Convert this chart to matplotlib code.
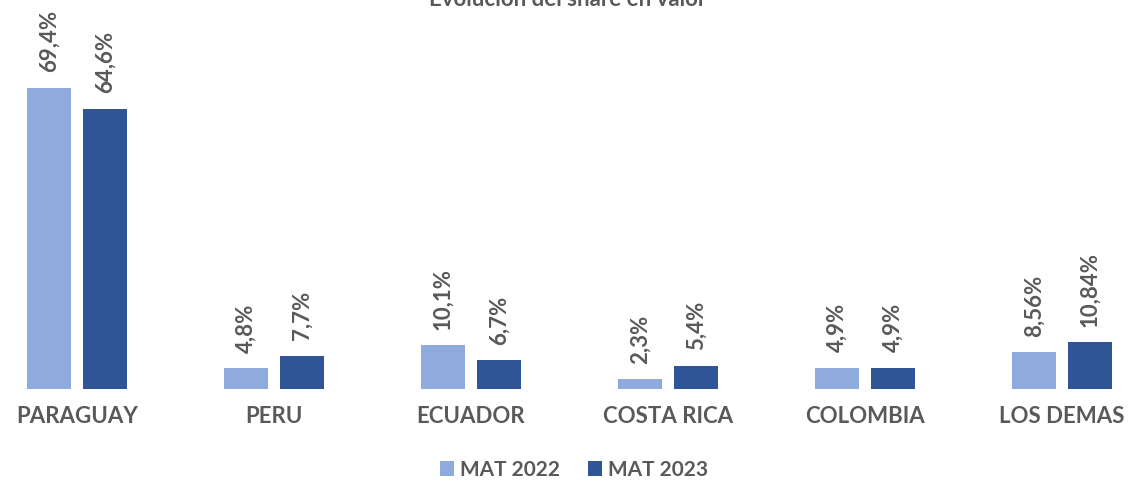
import numpy as np
import matplotlib.pyplot as plt

categories = ["PARAGUAY", "PERU", "ECUADOR", "COSTA RICA", "COLOMBIA", "LOS DEMAS"]
mat_2022 = [69.4, 4.8, 10.1, 2.3, 4.9, 8.56]
mat_2023 = [64.6, 7.7, 6.7, 5.4, 4.9, 10.84]
labels_2022 = ["69,4%", "4,8%", "10,1%", "2,3%", "4,9%", "8,56%"]
labels_2023 = ["64,6%", "7,7%", "6,7%", "5,4%", "4,9%", "10,84%"]

plt.rcParams['font.family'] = ['Lato', 'DejaVu Sans']
gray = '#595959'
c22 = '#8FAADC'
c23 = '#2F5597'

fig = plt.figure(figsize=(11.3, 4.86), dpi=100)
ax = fig.add_axes([0, 0.1996, 1, 0.8004])

x = np.arange(len(categories))
w = 0.223
off = 0.142
b1 = ax.bar(x - off, mat_2022, w, color=c22, label='MAT 2022')
b2 = ax.bar(x + off, mat_2023, w, color=c23, label='MAT 2023')

for bars, labs in [(b1, labels_2022), (b2, labels_2023)]:
    for b, t in zip(bars, labs):
        ax.annotate(t, (b.get_x() + b.get_width() / 2, b.get_height()),
                    xytext=(0, 11), textcoords='offset points',
                    rotation=90, ha='center', va='bottom',
                    fontsize=16, fontweight='bold', color=gray)

ax.set_xlim(-0.391, 5.345)
ax.set_ylim(0, 89.6)
ax.set_xticks(x)
ax.set_xticklabels(categories, fontsize=16, fontweight='bold', color=gray)
ax.tick_params(axis='x', length=0, pad=12)
ax.set_yticks([])
for s in ax.spines.values():
    s.set_visible(False)

fig.text(0.502, 1.0, "Evolución del share en valor", ha='center', va='center',
         fontsize=16, fontweight='bold', color=gray)

fig.legend(loc='center', bbox_to_anchor=(0.508, 0.033), ncol=2, frameon=False,
           prop={'size': 15, 'weight': 'bold'}, labelcolor=gray,
           handlelength=0.7, handleheight=0.7, handletextpad=0.3, columnspacing=1.3)

fig.savefig('out.png', dpi=100)
